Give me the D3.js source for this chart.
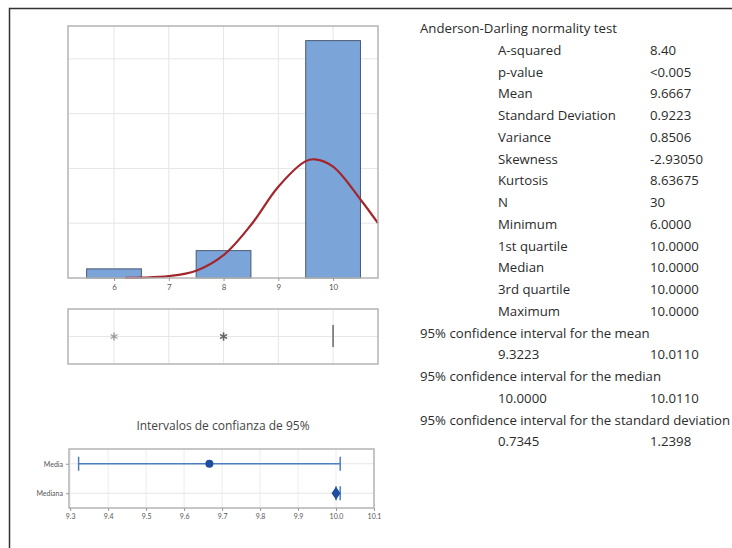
<!DOCTYPE html>
<html>
<head>
<meta charset="utf-8">
<script src="https://cdn.jsdelivr.net/npm/d3@7"></script>
<style>
  body { margin: 0; background: #fff; }
  svg { display: block; font-family: "Open Sans", Lato, sans-serif; }
</style>
</head>
<body>
<script>
// histogram bins (width 1, centred on integers)
const binCenters = [6, 7, 8, 9, 10];
const binCounts = [1, 0, 3, 0, 26];
const histTicks = [6, 7, 8, 9, 10];
const histGridY = [6, 12, 18, 24];

// fitted normal curve (x, count)
const curveX = [6.2, 6.5, 7.0, 7.5, 8.0, 8.5, 9.0, 9.5, 9.67, 10.0, 10.5, 10.82];
const curveY = [0.02, 0.04, 0.2, 0.8, 2.5, 5.8, 10.0, 12.8, 13.0, 12.2, 8.6, 6.0];

// boxplot: outliers and collapsed box (Q1 = median = Q3 = 10)
const outliers = [6, 8, 8, 8];
const boxMedian = 10;

// confidence intervals
const ciRows = ['Media', 'Mediana'];
const ciLow = [9.3223, 10.0000];
const ciHigh = [10.0110, 10.0110];
const ciEst = [9.6667, 10.0000];
const ciTicks = [9.3, 9.4, 9.5, 9.6, 9.7, 9.8, 9.9, 10.0, 10.1];

// summary table
const testTitle = 'Anderson-Darling normality test';
const statLabels = ['A-squared', 'p-value', 'Mean', 'Standard Deviation', 'Variance', 'Skewness',
  'Kurtosis', 'N', 'Minimum', '1st quartile', 'Median', '3rd quartile', 'Maximum'];
const statValues = ['8.40', '<0.005', '9.6667', '0.9223', '0.8506', '-2.93050',
  '8.63675', '30', '6.0000', '10.0000', '10.0000', '10.0000', '10.0000'];
const ciHeaders = ['95% confidence interval for the mean', '95% confidence interval for the median',
  '95% confidence interval for the standard deviation'];
const ciTableLow = ['9.3223', '10.0000', '0.7345'];
const ciTableHigh = ['10.0110', '10.0110', '1.2398'];

const svg = d3.select('body').append('svg')
  .attr('width', 732)
  .attr('height', 548);

// outer frame
svg.append('path')
  .attr('d', 'M9.5,548 L9.5,8.5 L732,8.5')
  .attr('fill', 'none')
  .attr('stroke', '#333')
  .attr('stroke-width', 1.5);

const frameCol = '#b4b4b4';
const gridCol = '#e6e6e6';

/* histogram */
const xH = d3.scaleLinear().domain([5.16, 10.82]).range([68, 378]);
const yH = d3.scaleLinear().domain([0, 27.6]).range([278, 26]);

const gH = svg.append('g');

gH.selectAll('.vgrid').data(histTicks).enter().append('line')
  .attr('x1', d => xH(d)).attr('x2', d => xH(d))
  .attr('y1', yH.range()[1]).attr('y2', yH.range()[0])
  .attr('stroke', gridCol);

gH.selectAll('.hgrid').data(histGridY).enter().append('line')
  .attr('x1', xH.range()[0]).attr('x2', xH.range()[1])
  .attr('y1', d => yH(d)).attr('y2', d => yH(d))
  .attr('stroke', gridCol);

gH.selectAll('rect.bar')
  .data(binCenters.map((c, i) => ({c: c, n: binCounts[i]})).filter(d => d.n > 0))
  .enter().append('rect')
  .attr('class', 'bar')
  .attr('x', d => xH(d.c - 0.5))
  .attr('width', d => xH(d.c + 0.5) - xH(d.c - 0.5))
  .attr('y', d => yH(d.n))
  .attr('height', d => yH(0) - yH(d.n))
  .attr('fill', '#7ba4d9')
  .attr('stroke', '#4b5b72')
  .attr('stroke-width', 1);

const line = d3.line()
  .x(d => xH(d[0]))
  .y(d => yH(d[1]))
  .curve(d3.curveCatmullRom);

gH.append('path')
  .datum(curveX.map((x, i) => [x, curveY[i]]))
  .attr('d', line)
  .attr('fill', 'none')
  .attr('stroke', '#a3262c')
  .attr('stroke-width', 2.2);

gH.append('rect')
  .attr('x', 68).attr('y', 26)
  .attr('width', 310).attr('height', 252)
  .attr('fill', 'none')
  .attr('stroke', frameCol)
  .attr('stroke-width', 1.5);

const axH = gH.append('g')
  .attr('transform', 'translate(0,278)')
  .call(d3.axisBottom(xH).tickValues(histTicks).tickFormat(d3.format('d')).tickSize(3).tickPadding(3));
axH.select('.domain').remove();
axH.selectAll('line').attr('stroke', '#999');
axH.selectAll('text').attr('fill', '#555').attr('font-size', 8).attr('font-family', 'Lato, sans-serif');

/* boxplot strip */
const gB = svg.append('g');
const bTop = 309, bBot = 364, bMid = 336.5;

gB.selectAll('.vgrid').data(histTicks).enter().append('line')
  .attr('x1', d => xH(d)).attr('x2', d => xH(d))
  .attr('y1', bTop).attr('y2', bBot)
  .attr('stroke', gridCol);
gB.append('line')
  .attr('x1', 68).attr('x2', 378)
  .attr('y1', bMid).attr('y2', bMid)
  .attr('stroke', gridCol);

gB.selectAll('path.out').data(outliers).enter().append('path')
  .attr('class', 'out')
  .attr('transform', d => `translate(${xH(d)},${bMid})`)
  .attr('d', d3.symbol().type(d3.symbolAsterisk).size(45))
  .attr('fill', 'none')
  .attr('stroke', '#555')
  .attr('stroke-width', 1.4)
  .attr('opacity', 0.55);

gB.append('line')
  .attr('x1', xH(boxMedian)).attr('x2', xH(boxMedian))
  .attr('y1', 325).attr('y2', 347)
  .attr('stroke', '#666')
  .attr('stroke-width', 1.5);

gB.append('rect')
  .attr('x', 68).attr('y', bTop)
  .attr('width', 310).attr('height', bBot - bTop)
  .attr('fill', 'none')
  .attr('stroke', frameCol)
  .attr('stroke-width', 1.5);

/* confidence intervals */
const xC = d3.scaleLinear().domain([9.297, 10.1]).range([69, 374]);
const yC = d3.scalePoint().domain(ciRows).range([449, 508]).padding(0.5);
const gC = svg.append('g');

gC.append('text')
  .attr('x', 223).attr('y', 430)
  .attr('text-anchor', 'middle')
  .attr('font-size', 12)
  .attr('fill', '#444')
  .text('Intervalos de confianza de 95%');

gC.selectAll('.vgrid').data(ciTicks).enter().append('line')
  .attr('x1', d => xC(d)).attr('x2', d => xC(d))
  .attr('y1', 449).attr('y2', 508)
  .attr('stroke', '#ececec');
gC.selectAll('.hgrid').data(ciRows).enter().append('line')
  .attr('x1', 69).attr('x2', 374)
  .attr('y1', d => yC(d)).attr('y2', d => yC(d))
  .attr('stroke', gridCol);

const ciData = ciRows.map((r, i) => ({row: r, lo: ciLow[i], hi: ciHigh[i], est: ciEst[i]}));
const ciCol = '#4a7ebf';

gC.selectAll('line.ci').data(ciData).enter().append('line')
  .attr('x1', d => xC(d.lo)).attr('x2', d => xC(d.hi))
  .attr('y1', d => yC(d.row)).attr('y2', d => yC(d.row))
  .attr('stroke', ciCol).attr('stroke-width', 1.5);

ciData.forEach(d => {
  [d.lo, d.hi].forEach(v => {
    gC.append('line')
      .attr('x1', xC(v)).attr('x2', xC(v))
      .attr('y1', yC(d.row) - 7).attr('y2', yC(d.row) + 7)
      .attr('stroke', ciCol).attr('stroke-width', 1.5);
  });
});

gC.append('circle')
  .attr('cx', xC(ciData[0].est)).attr('cy', yC(ciData[0].row))
  .attr('r', 4)
  .attr('fill', '#1d4f9e');

gC.append('path')
  .attr('transform', `translate(${xC(ciData[1].est)},${yC(ciData[1].row)})`)
  .attr('d', 'M0,-6.5 L4.5,0 L0,6.5 L-4.5,0 Z')
  .attr('fill', '#1d4f9e');

gC.append('rect')
  .attr('x', 69).attr('y', 449)
  .attr('width', 305).attr('height', 59)
  .attr('fill', 'none')
  .attr('stroke', frameCol)
  .attr('stroke-width', 1.5);

const axC = gC.append('g')
  .attr('transform', 'translate(0,508)')
  .call(d3.axisBottom(xC).tickValues(ciTicks).tickFormat(d3.format('.1f')).tickSize(3).tickPadding(3));
axC.select('.domain').remove();
axC.selectAll('line').attr('stroke', '#999');
axC.selectAll('text').attr('fill', '#555').attr('font-size', 7).attr('font-family', 'Lato, sans-serif');

const axY = gC.append('g')
  .attr('transform', 'translate(69,0)')
  .call(d3.axisLeft(yC).tickSize(3).tickPadding(3));
axY.select('.domain').remove();
axY.selectAll('line').attr('stroke', '#999');
axY.selectAll('text').attr('fill', '#555').attr('font-size', 7).attr('font-family', 'Lato, sans-serif');

/* summary table */
const gT = svg.append('g')
  .attr('font-size', 13.2)
  .attr('fill', '#2b2b2b');
const rowH = 21.75;
const row0 = 33;

gT.append('text').attr('x', 420).attr('y', row0).text(testTitle);

statLabels.forEach((s, i) => {
  const y = row0 + rowH * (i + 1);
  gT.append('text').attr('x', 498).attr('y', y).text(s);
  gT.append('text').attr('x', 650).attr('y', y).text(statValues[i]);
});

ciHeaders.forEach((h, i) => {
  const y = row0 + rowH * (statLabels.length + 1 + i * 2);
  gT.append('text').attr('x', 420).attr('y', y).text(h);
  gT.append('text').attr('x', 498).attr('y', y + rowH).text(ciTableLow[i]);
  gT.append('text').attr('x', 650).attr('y', y + rowH).text(ciTableHigh[i]);
});
</script>
</body>
</html>
